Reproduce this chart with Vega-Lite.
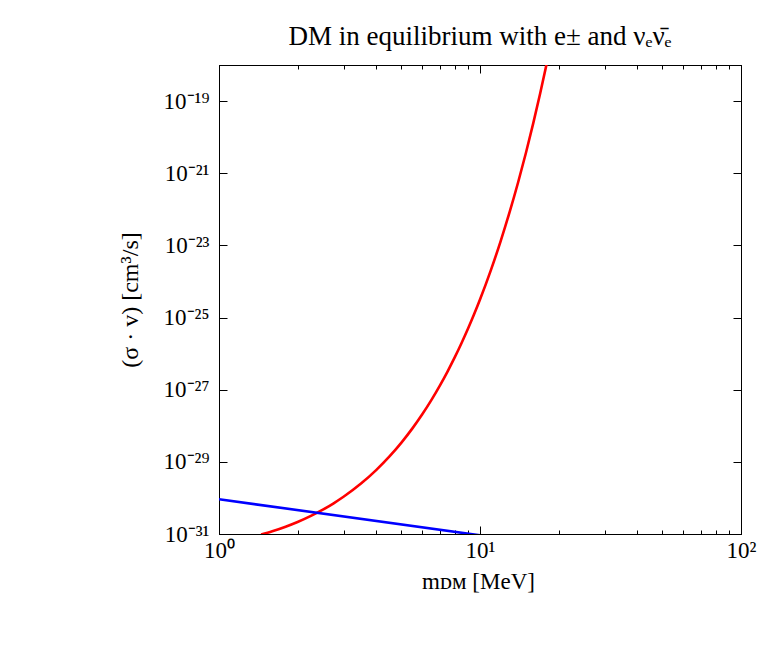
{
  "$schema": "https://vega.github.io/schema/vega-lite/v6.json",
  "autosize": "none",
  "width": 522,
  "height": 469,
  "padding": {"left": 219, "top": 65, "right": 39, "bottom": 126},
  "background": "white",
  "title": {
    "text": "DM in equilibrium with e± and νₑν̄ₑ",
    "font": "Liberation Serif",
    "fontSize": 27,
    "fontWeight": "normal",
    "color": "black",
    "anchor": "middle",
    "offset": 14,
    "dy": 16
  },
  "config": {
    "view": {"stroke": "black", "strokeWidth": 1},
    "axis": {
      "grid": false,
      "domainColor": "black",
      "domainWidth": 1,
      "tickColor": "black",
      "tickWidth": 1,
      "labelColor": "black",
      "labelFont": "Liberation Serif",
      "labelFontSize": 23,
      "labelFlush": false,
      "labelOverlap": false,
      "titleColor": "black",
      "titleFont": "Liberation Serif",
      "titleFontSize": 24,
      "titleFontWeight": "normal"
    }
  },
  "data": {
    "values": [
      {"m": 1.45, "sv": 9.62e-32, "s": "e"},
      {"m": 1.6, "sv": 1.186e-31, "s": "e"},
      {"m": 1.8, "sv": 1.589e-31, "s": "e"},
      {"m": 2.0, "sv": 2.148e-31, "s": "e"},
      {"m": 2.25, "sv": 3.17e-31, "s": "e"},
      {"m": 2.5, "sv": 4.72e-31, "s": "e"},
      {"m": 2.75, "sv": 7.1e-31, "s": "e"},
      {"m": 3.0, "sv": 1.074e-30, "s": "e"},
      {"m": 3.5, "sv": 2.495e-30, "s": "e"},
      {"m": 4.0, "sv": 5.9e-30, "s": "e"},
      {"m": 4.5, "sv": 1.413e-29, "s": "e"},
      {"m": 5.0, "sv": 3.42e-29, "s": "e"},
      {"m": 5.5, "sv": 8.34e-29, "s": "e"},
      {"m": 6.0, "sv": 2.05e-28, "s": "e"},
      {"m": 6.5, "sv": 5.07e-28, "s": "e"},
      {"m": 7.0, "sv": 1.259e-27, "s": "e"},
      {"m": 7.5, "sv": 3.13e-27, "s": "e"},
      {"m": 8.0, "sv": 7.83e-27, "s": "e"},
      {"m": 8.5, "sv": 1.968e-26, "s": "e"},
      {"m": 9.0, "sv": 4.95e-26, "s": "e"},
      {"m": 9.5, "sv": 1.25e-25, "s": "e"},
      {"m": 10.0, "sv": 3.16e-25, "s": "e"},
      {"m": 11.0, "sv": 2.03e-24, "s": "e"},
      {"m": 12.0, "sv": 1.318e-23, "s": "e"},
      {"m": 13.0, "sv": 8.59e-23, "s": "e"},
      {"m": 14.0, "sv": 5.62e-22, "s": "e"},
      {"m": 15.0, "sv": 3.7e-21, "s": "e"},
      {"m": 16.0, "sv": 2.44e-20, "s": "e"},
      {"m": 17.0, "sv": 1.614e-19, "s": "e"},
      {"m": 18.0, "sv": 1.072e-18, "s": "e"},
      {"m": 18.5, "sv": 2.77e-18, "s": "e"},
      {"m": 1.0, "sv": 9.2e-31, "s": "nu"},
      {"m": 10.0, "sv": 9.2e-32, "s": "nu"}
    ]
  },
  "resolve": {"axis": {"x": "independent", "y": "independent"}},
  "layer": [
    {
      "mark": {"type": "line", "clip": true, "strokeWidth": 2.6, "interpolate": "monotone"},
      "encoding": {
        "x": {
          "field": "m",
          "type": "quantitative",
          "scale": {"type": "log", "domain": [1, 100], "nice": false},
          "axis": {
            "orient": "bottom",
            "values": [1, 10, 100],
            "tickSize": -8,
            "labelPadding": 13,
            "labelExpr": "'10' + (datum.value < 5 ? '⁰' : datum.value < 50 ? '¹' : '²')",
            "title": "mᴅᴍ [MeV]",
            "titleFontSize": 23,
            "titleX": 259,
            "titleY": 47,
            "titleBaseline": "middle"
          }
        },
        "y": {
          "field": "sv",
          "type": "quantitative",
          "scale": {"type": "log", "domain": [1e-31, 1e-18], "nice": false},
          "axis": {
            "orient": "left",
            "values": [1e-31, 1e-29, 1e-27, 1e-25, 1e-23, 1e-21, 1e-19],
            "tickSize": -8,
            "labelPadding": 18,
            "labelExpr": "'10⁻' + substring('⁰¹²³⁴⁵⁶⁷⁸⁹', floor(round(-log(datum.value)/LN10)/10), floor(round(-log(datum.value)/LN10)/10)+1) + substring('⁰¹²³⁴⁵⁶⁷⁸⁹', round(-log(datum.value)/LN10)%10, round(-log(datum.value)/LN10)%10+1)",
            "title": "(σ · v) [cm³/s]",
            "titleX": -89,
            "titleY": 234.5,
            "titleAlign": "center",
            "titleBaseline": "middle"
          }
        },
        "color": {
          "field": "s",
          "type": "nominal",
          "scale": {"domain": ["e", "nu"], "range": ["#ff0000", "#0000ff"]},
          "legend": null
        }
      }
    },
    {
      "mark": {"type": "line", "opacity": 0},
      "encoding": {
        "x": {
          "field": "m",
          "type": "quantitative",
          "scale": {"type": "log", "domain": [1, 100], "nice": false},
          "axis": {"orient": "top", "values": [1, 10, 100], "tickSize": -8, "labels": false, "title": null}
        },
        "y": {
          "field": "sv",
          "type": "quantitative",
          "scale": {"type": "log", "domain": [1e-31, 1e-18], "nice": false},
          "axis": {"orient": "right", "values": [1e-31, 1e-29, 1e-27, 1e-25, 1e-23, 1e-21, 1e-19], "tickSize": -8, "labels": false, "title": null}
        },
        "detail": {"field": "s", "type": "nominal"}
      }
    },
    {
      "mark": {"type": "line", "opacity": 0},
      "encoding": {
        "x": {
          "field": "m",
          "type": "quantitative",
          "scale": {"type": "log", "domain": [1, 100], "nice": false},
          "axis": {"orient": "bottom", "values": [2, 3, 4, 5, 6, 7, 8, 9, 20, 30, 40, 50, 60, 70, 80, 90], "tickSize": -4, "labels": false, "title": null}
        },
        "y": {
          "field": "sv",
          "type": "quantitative",
          "scale": {"type": "log", "domain": [1e-31, 1e-18], "nice": false},
          "axis": null
        },
        "detail": {"field": "s", "type": "nominal"}
      }
    },
    {
      "mark": {"type": "line", "opacity": 0},
      "encoding": {
        "x": {
          "field": "m",
          "type": "quantitative",
          "scale": {"type": "log", "domain": [1, 100], "nice": false},
          "axis": {"orient": "top", "values": [2, 3, 4, 5, 6, 7, 8, 9, 20, 30, 40, 50, 60, 70, 80, 90], "tickSize": -4, "labels": false, "title": null}
        },
        "y": {
          "field": "sv",
          "type": "quantitative",
          "scale": {"type": "log", "domain": [1e-31, 1e-18], "nice": false},
          "axis": null
        },
        "detail": {"field": "s", "type": "nominal"}
      }
    }
  ]
}
